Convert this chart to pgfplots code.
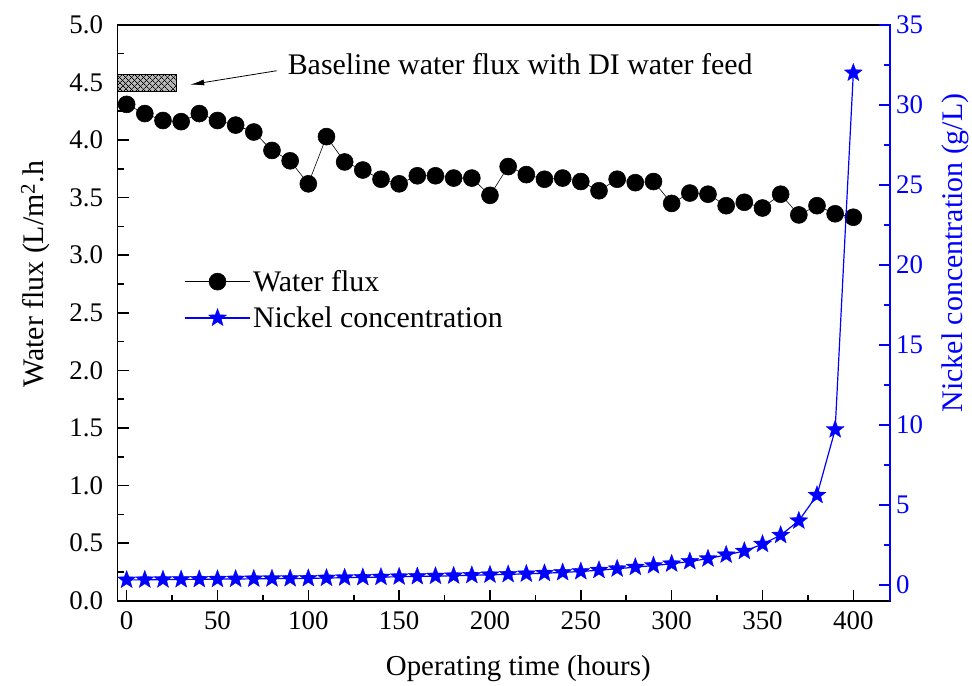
\documentclass[border=0pt]{standalone}
\usepackage{pgfplots}
\pgfplotsset{compat=1.18}
\usepackage{fontspec}
\setmainfont{Liberation Serif}
\usetikzlibrary{arrows.meta, patterns.meta}

\definecolor{niblue}{RGB}{0,0,255}

% filled five-pointed star
\pgfdeclareplotmark{fstar}{%
  \pgfpathmoveto{\pgfqpointpolar{90}{\pgfplotmarksize}}%
  \pgfpathlineto{\pgfqpointpolar{126}{0.42\pgfplotmarksize}}%
  \pgfpathlineto{\pgfqpointpolar{162}{\pgfplotmarksize}}%
  \pgfpathlineto{\pgfqpointpolar{198}{0.42\pgfplotmarksize}}%
  \pgfpathlineto{\pgfqpointpolar{234}{\pgfplotmarksize}}%
  \pgfpathlineto{\pgfqpointpolar{270}{0.42\pgfplotmarksize}}%
  \pgfpathlineto{\pgfqpointpolar{306}{\pgfplotmarksize}}%
  \pgfpathlineto{\pgfqpointpolar{342}{0.42\pgfplotmarksize}}%
  \pgfpathlineto{\pgfqpointpolar{18}{\pgfplotmarksize}}%
  \pgfpathlineto{\pgfqpointpolar{54}{0.42\pgfplotmarksize}}%
  \pgfpathclose
  \pgfusepathqfillstroke
}

\pgfplotsset{
  common/.style={
    width=775pt, height=578pt, scale only axis,
    xmin=-5, xmax=420,
    xtick={0,50,...,400}, minor x tick num=1,
    tick align=inside,
    major tick length=11pt, minor tick length=6pt,
    every tick/.style={line width=1.6pt},
    axis line style={line width=1.8pt},
    /pgf/number format/assume math mode=true,
    ticklabel style={font=\fontsize{27}{30}\selectfont},
    label style={font=\fontsize{29}{33}\selectfont},
    legend image code/.code={
      \draw[mark repeat=2, mark phase=2] plot coordinates {(0pt,0pt) (33pt,0pt) (66pt,0pt)};
    },
  },
}

\begin{document}
\begin{tikzpicture}
\begin{axis}[
    common,
    ymin=0, ymax=5,
    ytick={0,0.5,...,5}, minor y tick num=1,
    tick pos=left,
    yticklabel style={xshift=-11pt, /pgf/number format/.cd, fixed, fixed zerofill, precision=1},
    xticklabel style={yshift=-7pt},
    xlabel={Operating time (hours)},
    ylabel={Water flux (L/m\textsuperscript{2}.h},
    xlabel style={at={(axis description cs:0.519,-0.1298)}, anchor=base},
    ylabel style={font=\fontsize{30}{33}\selectfont, at={(axis description cs:-0.0955,0.567)}, anchor=base, rotate=0},
]
\addplot[black, line width=0.6pt, mark=*, mark size=8.5pt] coordinates {
(0,4.31)(10,4.23)(20,4.17)(30,4.16)(40,4.23)(50,4.17)(60,4.13)(70,4.07)(80,3.91)(90,3.82)
(100,3.62)(110,4.03)(120,3.81)(130,3.74)(140,3.66)(150,3.62)(160,3.69)(170,3.69)(180,3.67)(190,3.67)
(200,3.52)(210,3.77)(220,3.70)(230,3.66)(240,3.67)(250,3.64)(260,3.56)(270,3.66)(280,3.63)(290,3.64)
(300,3.45)(310,3.54)(320,3.53)(330,3.43)(340,3.46)(350,3.41)(360,3.53)(370,3.35)(380,3.43)(390,3.36)
(400,3.33)
};
% baseline box and annotation
\fill[gray!55] (axis cs:-5,4.42) rectangle (axis cs:27.4,4.567);
\fill[pattern={Lines[angle=45, distance=4pt, line width=0.8pt]}] (axis cs:-5,4.42) rectangle (axis cs:27.4,4.567);
\fill[pattern={Lines[angle=-45, distance=4pt, line width=0.8pt]}] (axis cs:-5,4.42) rectangle (axis cs:27.4,4.567);
\draw[line width=1pt] (axis cs:-5,4.42) rectangle (axis cs:27.4,4.567);
\draw[line width=0.8pt, -{Latex[length=14pt, width=6pt]}] (axis cs:82.6,4.602) -- (axis cs:35,4.481);
\node[anchor=base west, inner sep=0pt, font=\fontsize{30}{33}\selectfont] at (axis cs:88.6,4.567) {Baseline water flux with DI water feed};
\coordinate (tl) at (rel axis cs:0,1);
\coordinate (br) at (rel axis cs:1,0);
\end{axis}

\begin{axis}[
    common,
    ymin=-1, ymax=35,
    ytick={0,5,...,35}, minor y tick num=1,
    axis y line*=right, axis x line=none,
    y axis line style={niblue},
    every y tick/.style={niblue, line width=1.6pt},
    every minor y tick/.style={niblue, line width=1.6pt},
    yticklabel style={niblue, xshift=3pt},
    ylabel={Nickel concentration (g/L)},
    ylabel style={niblue, font=\fontsize{30}{33}\selectfont, at={(axis description cs:1.094,0.604)}, anchor=base, rotate=0},
    legend style={at={(0.082,0.581)}, anchor=north west, draw=none, fill=none,
      font=\fontsize{30}{33}\selectfont, row sep=10pt,
      legend cell align=left,
      /tikz/every even column/.append style={column sep=6pt}},
]
\addlegendimage{black, line width=0.6pt, mark=*, mark size=8.5pt}
\addlegendentry{Water flux}
\addplot[color=niblue, draw=niblue, line width=1.2pt, mark=fstar, mark size=9.5pt,
  mark options={fill=niblue, draw=niblue, line width=0.3pt}] coordinates {
(0,0.30)(10,0.31)(20,0.32)(30,0.33)(40,0.34)(50,0.35)(60,0.36)(70,0.37)(80,0.38)(90,0.39)
(100,0.40)(110,0.42)(120,0.44)(130,0.46)(140,0.48)(150,0.50)(160,0.52)(170,0.54)(180,0.56)(190,0.59)
(200,0.62)(210,0.65)(220,0.68)(230,0.72)(240,0.77)(250,0.83)(260,0.91)(270,1.00)(280,1.10)(290,1.20)
(300,1.31)(310,1.46)(320,1.63)(330,1.87)(340,2.10)(350,2.54)(360,3.10)(370,4.00)(380,5.60)(390,9.70)
(400,32.0)
};
\addlegendentry{Nickel concentration}
\end{axis}
% fix the page to the reference margins
\path (tl) ++(-118pt,25pt) coordinate (p1);
\path (br) ++(79pt,-82pt) coordinate (p2);
\path (p1) rectangle (p2);
\end{tikzpicture}
\end{document}
